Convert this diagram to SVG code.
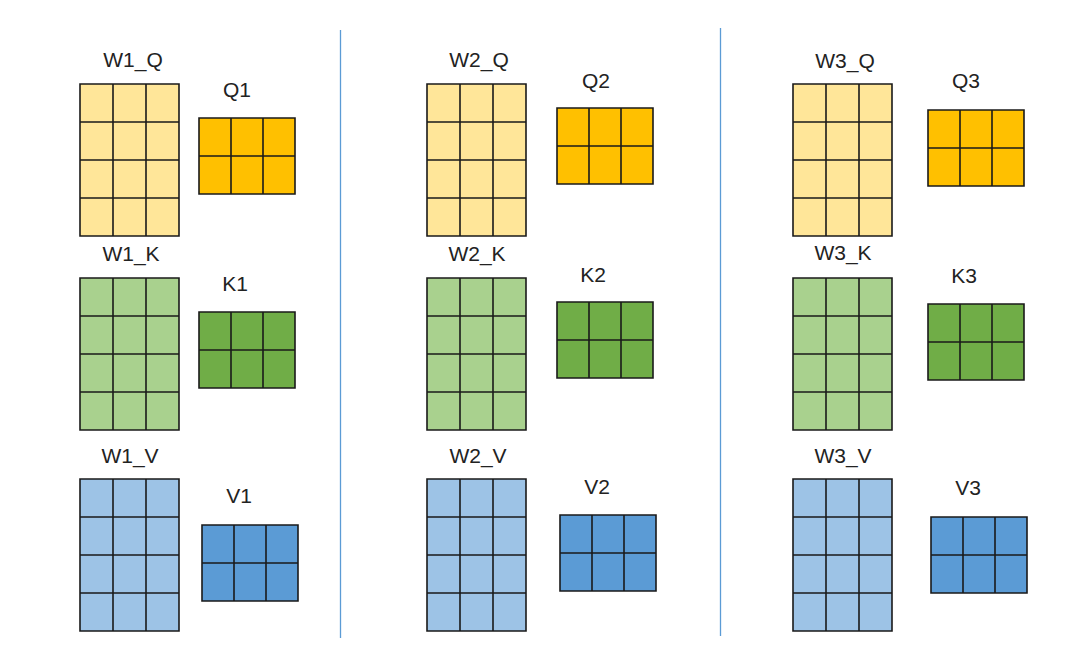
<svg xmlns="http://www.w3.org/2000/svg" xmlns:xlink="http://www.w3.org/1999/xlink" width="1073" height="652" viewBox="0 0 1073 652">
<style>
.lbl{font-family:"Liberation Sans","DejaVu Sans",sans-serif;font-size:21px;fill:#222;text-anchor:middle}
.grid{stroke:#1a1a1a;stroke-width:1.6}
.wq{fill:#FFE699}.q{fill:#FFC000}
.wk{fill:#A9D18E}.k{fill:#70AD47}
.wv{fill:#9DC3E6}.v{fill:#5B9BD5}
.sep{stroke:#5B9BD5;stroke-width:1.3;fill:none}
</style>
<defs>
<path id="big" d="M0,0h99v152h-99z M33,0v152 M66,0v152 M0,38h99 M0,76h99 M0,114h99"/>
<path id="small" d="M0,0h96v76h-96z M32,0v76 M64,0v76 M0,38h96"/>
</defs>
<rect width="1073" height="652" fill="#fff"/>
<g id="separators">
<line class="sep" x1="340.5" y1="30" x2="340.5" y2="638"/>
<line class="sep" x1="720.5" y1="28" x2="720.5" y2="636"/>
</g>
<g id="W1_Q"><use xlink:href="#big" x="80" y="84" class="grid wq"/><text class="lbl" x="133" y="67">W1_Q</text></g>
<g id="Q1"><use xlink:href="#small" x="199" y="118" class="grid q"/><text class="lbl" x="237" y="97">Q1</text></g>
<g id="W1_K"><use xlink:href="#big" x="80" y="278" class="grid wk"/><text class="lbl" x="131" y="261">W1_K</text></g>
<g id="K1"><use xlink:href="#small" x="199" y="312" class="grid k"/><text class="lbl" x="235" y="291">K1</text></g>
<g id="W1_V"><use xlink:href="#big" x="80" y="479" class="grid wv"/><text class="lbl" x="130" y="463">W1_V</text></g>
<g id="V1"><use xlink:href="#small" x="202" y="525" class="grid v"/><text class="lbl" x="239" y="503">V1</text></g>
<g id="W2_Q"><use xlink:href="#big" x="427" y="84" class="grid wq"/><text class="lbl" x="479" y="67">W2_Q</text></g>
<g id="Q2"><use xlink:href="#small" x="557" y="108" class="grid q"/><text class="lbl" x="596" y="88">Q2</text></g>
<g id="W2_K"><use xlink:href="#big" x="427" y="278" class="grid wk"/><text class="lbl" x="477" y="261">W2_K</text></g>
<g id="K2"><use xlink:href="#small" x="557" y="302" class="grid k"/><text class="lbl" x="593" y="282">K2</text></g>
<g id="W2_V"><use xlink:href="#big" x="427" y="479" class="grid wv"/><text class="lbl" x="478" y="463">W2_V</text></g>
<g id="V2"><use xlink:href="#small" x="560" y="515" class="grid v"/><text class="lbl" x="597" y="494">V2</text></g>
<g id="W3_Q"><use xlink:href="#big" x="793" y="84" class="grid wq"/><text class="lbl" x="845" y="68">W3_Q</text></g>
<g id="Q3"><use xlink:href="#small" x="928" y="110" class="grid q"/><text class="lbl" x="966" y="88">Q3</text></g>
<g id="W3_K"><use xlink:href="#big" x="793" y="278" class="grid wk"/><text class="lbl" x="843" y="260">W3_K</text></g>
<g id="K3"><use xlink:href="#small" x="928" y="304" class="grid k"/><text class="lbl" x="964" y="283">K3</text></g>
<g id="W3_V"><use xlink:href="#big" x="793" y="479" class="grid wv"/><text class="lbl" x="843" y="463">W3_V</text></g>
<g id="V3"><use xlink:href="#small" x="931" y="517" class="grid v"/><text class="lbl" x="968" y="495">V3</text></g>
</svg>
